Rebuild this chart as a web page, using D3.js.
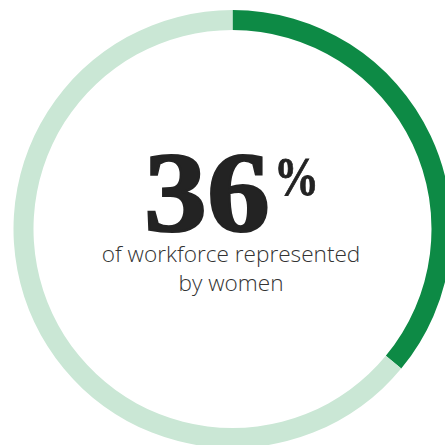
<!DOCTYPE html>
<html><head><meta charset="utf-8">
<script src="https://cdn.jsdelivr.net/npm/d3@7"></script>
<style>html,body{margin:0;padding:0;background:#fff;overflow:hidden}</style>
</head><body>
<svg id="c" width="445" height="445"></svg>
<script>
const categories = ["Women", "Other"];
const values = [36, 64];
const colors = ["#0d8a45", "#cae7d5"];
const bigLabel = "36";
const unitLabel = "%";
const captionLines = ["of workforce represented", "by women"];

const svg = d3.select("#c");
const cx = 232.5, cy = 229, rOuter = 219, rInner = 199;
const g = svg.append("g").attr("transform", `translate(${cx},${cy})`);
const pie = d3.pie().sort(null).value(d => d)(values);
const arc = d3.arc().innerRadius(rInner).outerRadius(rOuter);
g.selectAll("path").data(pie).join("path")
  .attr("d", arc).attr("fill", (d, i) => colors[i]);

svg.append("text").attr("x", 207).attr("y", 231)
  .attr("text-anchor", "middle")
  .attr("font-family", "Liberation Serif, DejaVu Serif, serif")
  .attr("font-weight", "bold").attr("font-size", 114)
  .attr("textLength", 126).attr("lengthAdjust", "spacingAndGlyphs")
  .attr("fill", "#232323").attr("stroke", "#232323").attr("stroke-width", 2.2)
  .text(bigLabel);
svg.append("text").attr("x", 274).attr("y", 195)
  .attr("font-family", "Liberation Serif, DejaVu Serif, serif")
  .attr("font-weight", "bold").attr("font-size", 54)
  .attr("textLength", 45).attr("lengthAdjust", "spacingAndGlyphs")
  .attr("fill", "#232323").attr("stroke", "#232323").attr("stroke-width", 0.8)
  .text(unitLabel);
svg.selectAll("text.cap").data(captionLines).join("text").attr("class", "cap")
  .attr("x", 231).attr("y", (d, i) => 262 + i * 29)
  .attr("text-anchor", "middle")
  .attr("font-family", "Open Sans, Lato, sans-serif")
  .attr("font-weight", 300).attr("font-size", 22.6)
  .attr("fill", "#333").text(d => d);
</script>
</body></html>
